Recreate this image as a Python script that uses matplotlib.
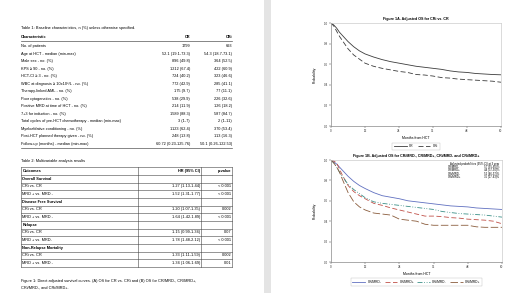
import numpy as np
import matplotlib
matplotlib.use('Agg')
import matplotlib.pyplot as plt

plt.rcParams['font.family'] = ['Liberation Sans', 'DejaVu Sans']

# Table 1 data
t1_cols = ['Characteristic', 'CR', 'CRi']
t1_rows = ['No. of patients',
           'Age at HCT - median (min-max)',
           'Male sex - no. (%)',
           'KPS \u2265 90 - no. (%)',
           'HCT-CI \u2265 3 - no. (%)',
           'WBC at diagnosis \u2265 10x10\u2079/L - no. (%)',
           'Therapy-linked AML - no. (%)',
           'Poor cytogenetics - no. (%)',
           'Positive MRD at time of HCT - no. (%)',
           '7+3 for induction - no. (%)',
           'Total cycles of pre-HCT chemotherapy - median (min-max)',
           'Myeloablative conditioning - no. (%)',
           'Post-HCT planned therapy given - no. (%)',
           'Follow-up (months) - median (min-max)']
t1_cr = ['1799', '52.1 (19.1-73.3)', '896 (49.8)', '1212 (67.4)', '724 (40.2)', '772 (42.9)',
         '175 (9.7)', '538 (29.9)', '214 (11.9)', '1589 (88.3)', '3 (1-7)', '1123 (62.4)',
         '248 (13.8)', '60.72 (0.23-125.76)']
t1_cri = ['693', '54.3 (18.7-73.1)', '364 (52.5)', '422 (60.9)', '323 (46.6)', '285 (41.1)',
          '77 (11.1)', '226 (32.6)', '126 (18.2)', '587 (84.7)', '2 (1-11)', '370 (53.4)',
          '113 (16.3)', '50.1 (0.26-122.53)']

# Table 2 data
t2_cols = ['Outcomes', 'HR (95% CI)', 'p-value']
t2_rows = [('Overall Survival', '', ''),
           ('CRi vs. CR', '1.27 (1.13-1.44)', '< 0.001'),
           ('MRD + vs. MRD -', '1.52 (1.31-1.77)', '< 0.001'),
           ('Disease Free Survival', '', ''),
           ('CRi vs. CR', '1.20 (1.07-1.35)', '0.002'),
           ('MRD + vs. MRD -', '1.64 (1.42-1.89)', '< 0.001'),
           ('Relapse', '', ''),
           ('CRi vs. CR', '1.15 (0.99-1.34)', '0.07'),
           ('MRD + vs. MRD-', '1.78 (1.48-2.12)', '< 0.001'),
           ('Non-Relapse Mortality', '', ''),
           ('CRi vs. CR', '1.33 (1.11-1.59)', '0.002'),
           ('MRD + vs. MRD -', '1.34 (1.06-1.69)', '0.01')]

# Figure 1A curves
a_months = [0, 1, 2, 3, 4, 6, 8, 10, 12, 15, 18, 21, 24, 27, 30, 33, 36, 39, 42, 45, 48, 51, 54, 57, 60]
a_cr = [1.0, 0.98, 0.95, 0.91, 0.88, 0.82, 0.77, 0.73, 0.70, 0.67, 0.645, 0.625, 0.61, 0.595, 0.58,
        0.57, 0.56, 0.55, 0.535, 0.525, 0.52, 0.51, 0.505, 0.50, 0.497]
a_cri = [1.0, 0.97, 0.92, 0.87, 0.83, 0.75, 0.69, 0.65, 0.61, 0.58, 0.56, 0.545, 0.53, 0.52, 0.50,
         0.495, 0.485, 0.47, 0.465, 0.455, 0.45, 0.445, 0.44, 0.435, 0.425]

# Figure 1B curves
b_months = [0, 1, 2, 3, 4, 6, 8, 10, 12, 15, 18, 21, 24, 27, 30, 33, 36, 39, 42, 45, 48, 51, 54, 57, 60]
b_series = {
    'CR/MRD-': [1.0, 0.98, 0.96, 0.93, 0.90, 0.84, 0.79, 0.75, 0.72, 0.68, 0.65, 0.635, 0.62, 0.60,
                0.59, 0.58, 0.57, 0.56, 0.55, 0.545, 0.54, 0.53, 0.525, 0.52, 0.515],
    'CR/MRD+': [1.0, 0.99, 0.97, 0.91, 0.85, 0.75, 0.69, 0.65, 0.62, 0.575, 0.555, 0.53, 0.51, 0.49,
                0.47, 0.45, 0.45, 0.445, 0.435, 0.43, 0.42, 0.415, 0.41, 0.40, 0.375],
    'CRi/MRD-': [1.0, 0.97, 0.93, 0.88, 0.84, 0.76, 0.71, 0.67, 0.63, 0.59, 0.575, 0.565, 0.555,
                 0.545, 0.535, 0.525, 0.515, 0.495, 0.485, 0.475, 0.47, 0.465, 0.46, 0.45, 0.44],
    'CRi/MRD+': [1.0, 0.97, 0.93, 0.88, 0.81, 0.68, 0.59, 0.54, 0.51, 0.48, 0.47, 0.46, 0.42, 0.41,
                 0.40, 0.37, 0.36, 0.36, 0.36, 0.36, 0.36, 0.345, 0.34, 0.34, 0.34],
}
b_colors = ['#6070c0', '#c05048', '#3c9088', '#8a5c3c']
b_styles = ['-', (0, (6, 3)), (0, (6, 2, 1, 2, 1, 2)), (0, (9, 3))]
b_adj = ['57 (55-60)%', '44 (37-50)%', '52 (46-57)%', '35 (27-43)%']

fig = plt.figure(figsize=(5.2, 2.95), dpi=100)
bg = fig.add_axes([0, 0, 1, 1])
bg.set_xlim(0, 520)
bg.set_ylim(295, 0)
bg.axis('off')

# page separator
bg.add_patch(plt.Rectangle((264, 0), 7, 293, color='#e4e4e4', lw=0))

fs = 2.8
# ---- Table 1
bg.text(21, 28, 'Table 1: Baseline characteristics, n (%) unless otherwise specified.', fontsize=fs, va='center')
bg.text(21, 37.5, t1_cols[0], fontsize=fs, fontweight='bold', va='center')
bg.text(190, 37.5, t1_cols[1], fontsize=fs, fontweight='bold', va='center', ha='right')
bg.text(232, 37.5, t1_cols[2], fontsize=fs, fontweight='bold', va='center', ha='right')
bg.plot([21, 232], [41, 41], color='#555555', lw=0.5)
y1 = np.linspace(46, 144, len(t1_rows))
for i in range(len(t1_rows)):
    bg.text(21, y1[i], t1_rows[i], fontsize=fs, va='center')
    bg.text(190, y1[i], t1_cr[i], fontsize=fs, va='center', ha='right')
    bg.text(232, y1[i], t1_cri[i], fontsize=fs, va='center', ha='right')
bg.plot([21, 232], [147.5, 147.5], color='#555555', lw=0.5)

# ---- Table 2
bg.text(21, 161, 'Table 2: Multivariable analysis results', fontsize=fs, va='center')
step = 7.67
top = 167.2
nrow = len(t2_rows) + 1
for r in range(nrow + 1):
    bg.plot([21, 232], [top + r * step, top + r * step], color='#444444', lw=0.4)
for xx in [21, 138, 201, 232]:
    bg.plot([xx, xx], [top, top + nrow * step], color='#444444', lw=0.4)
yc = top + step / 2
bg.text(22.5, yc, t2_cols[0], fontsize=fs, fontweight='bold', va='center')
bg.text(200, yc, t2_cols[1], fontsize=fs, fontweight='bold', va='center', ha='right')
bg.text(231, yc, t2_cols[2], fontsize=fs, fontweight='bold', va='center', ha='right')
for i, (a, b, c) in enumerate(t2_rows):
    yc = top + (i + 1.5) * step
    if b == '':
        bg.text(22.5, yc, a, fontsize=fs, fontweight='bold', va='center')
    else:
        bg.text(22.5, yc, a, fontsize=fs, va='center')
        bg.text(200, yc, b, fontsize=fs, va='center', ha='right')
        bg.text(231, yc, c, fontsize=fs, va='center', ha='right')

bg.text(21, 281, 'Figure 1: Direct adjusted survival curves. (A) OS for CR vs. CRi and (B) OS for CR/MRD-, CR/MRD+,',
        fontsize=fs, va='center')
bg.text(21, 287.5, 'CRi/MRD-, and CRi/MRD+.', fontsize=fs, va='center')


def style_axes(ax, title):
    ax.set_xlim(0, 60)
    ax.set_ylim(0, 1.0)
    ax.set_xticks([0, 12, 24, 36, 48, 60])
    ax.set_yticks([0, 0.2, 0.4, 0.6, 0.8, 1.0])
    ax.set_yticklabels(['0.0', '0.2', '0.4', '0.6', '0.8', '1.0'])
    ax.tick_params(labelsize=2.2, length=1.2, width=0.3, pad=1, colors='#333333')
    for s in ax.spines.values():
        s.set_color('#cccccc')
        s.set_linewidth(0.5)
    ax.spines['left'].set_color('#888888')
    ax.spines['bottom'].set_color('#888888')
    ax.set_xlabel('Months from HCT', fontsize=2.5, labelpad=1.8)
    ax.set_ylabel('Probability', fontsize=2.5, labelpad=5)
    ax.set_title(title, fontsize=2.6, fontweight='bold', pad=2.5)


# ---- Figure 1A
axA = fig.add_axes([331 / 520, (295 - 126) / 295, 170 / 520, 103 / 295])
axA.plot(a_months, a_cr, color='#3c3c3c', lw=0.6, label='CR')
axA.plot(a_months, a_cri, color='#3c3c3c', lw=0.6, ls=(0, (6, 3)), label='CRi')
style_axes(axA, 'Figure 1A. Adjusted OS for CRi vs. CR')
legA = axA.legend(loc='upper center', bbox_to_anchor=(0.5, -0.145), ncol=2, fontsize=2.3,
                  frameon=True, fancybox=False, handlelength=4, columnspacing=1.2,
                  borderpad=0.5, handletextpad=0.8)
legA.get_frame().set_linewidth(0.3)
legA.get_frame().set_edgecolor('#aaaaaa')

# ---- Figure 1B
axB = fig.add_axes([331 / 520, (295 - 262) / 295, 171 / 520, 102 / 295])
names = list(b_series.keys())
for i, nm in enumerate(names):
    axB.plot(b_months, b_series[nm], color=b_colors[i], lw=0.6, ls=b_styles[i], label=nm)
style_axes(axB, 'Figure 1B. Adjusted OS for CR/MRD-, CR/MRD+, CRi/MRD- and CRi/MRD+')
axB.text(0.985, 0.985, 'Adjusted probabilities (95% CI) at 3 year', transform=axB.transAxes,
         fontsize=2.0, ha='right', va='top')
for i, nm in enumerate(names):
    yy = 0.95 - i * 0.033
    axB.text(0.72, yy, nm, transform=axB.transAxes, fontsize=2.0, ha='center', va='top')
    axB.text(0.985, yy, b_adj[i], transform=axB.transAxes, fontsize=2.0, ha='right', va='top')
legB = axB.legend(loc='upper center', bbox_to_anchor=(0.5, -0.145), ncol=4, fontsize=2.3,
                  frameon=True, fancybox=False, handlelength=4, columnspacing=1.0,
                  borderpad=0.5, handletextpad=0.7)
legB.get_frame().set_linewidth(0.3)
legB.get_frame().set_edgecolor('#aaaaaa')

fig.savefig('out.png', dpi=100)
